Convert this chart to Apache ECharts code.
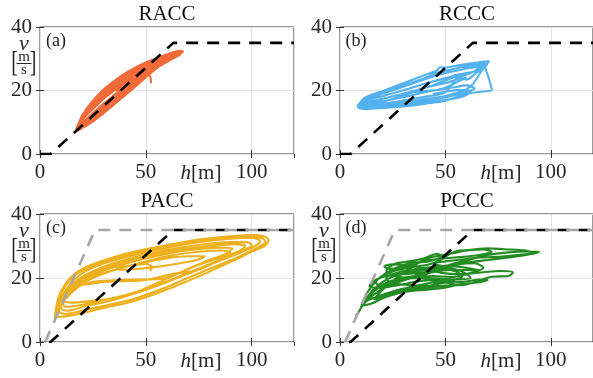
<!DOCTYPE html>
<html>
<head>
<meta charset="utf-8">
<script src="https://cdn.jsdelivr.net/npm/echarts@6/dist/echarts.min.js"></script>
<style>
html, body { margin: 0; padding: 0; background: #fff; }
#chart { width: 593px; height: 378px; }
</style>
</head>
<body>
<div id="chart"></div>
<script>
// panel titles / letters
const titles = ['RACC', 'RCCC', 'PACC', 'PCCC'];
const letters = ['(a)', '(b)', '(c)', '(d)'];
const xLimits = [0, 120];
const yLimits = [0, 40];

// reference speed policies [h, v]
const ovmBlack = [[0, 0], [5, 0], [63, 35], [120, 35]];
const ovmGray = [[2.4, 0], [26, 35], [120, 35]];

// trajectories [h (m), v (m/s)]
const racc = [
  [52.5, 22.3], [52.2, 24], [51.5, 25.8], [53, 27.4], [56, 28.9], [60, 30.3], [64, 31.6], [67, 32.3], [66, 31.2], [62, 29.8],
  [60, 29], [55, 27], [50, 24.2], [45, 21.2], [40, 18.4], [35, 15.6], [30, 12.8], [25, 10.3], [20, 8.2], [17.5, 7.3],
  [17, 7.5], [18.5, 10], [20, 12.3], [25, 16.8], [30, 20.3], [35, 23], [40, 25.3], [45, 27.2], [50, 28.8], [55, 30.2], [60, 31.4], [63, 32.1], [66, 32.5], [67.5, 32.3], [66, 31.5], [63, 30.6],
  [60, 29.5], [55, 27.6], [50, 25.1], [45, 22.4], [40, 19.8], [35, 17.1], [30, 14.3], [25, 11.6], [20, 9], [18, 7.6],
  [20, 11.5], [25, 15.5], [30, 18.8], [35, 21.5], [40, 23.9], [45, 26], [50, 27.9], [55, 29.6], [60, 30.9], [62.5, 31.4], [61, 30.4],
  [58, 29.3], [55, 28.3], [50, 26], [45, 23.6], [40, 21.2], [35, 18.6], [30, 15.8], [25, 12.9], [20, 9.8], [17.5, 7.5],
  [20, 11.9], [25, 16.2], [30, 19.6], [35, 22.3], [40, 24.6], [45, 26.6], [50, 28.4], [55, 29.9], [60, 31.2], [64, 31.9],
  [62, 30], [60, 29.2], [55, 27.3], [50, 24.7], [45, 21.8], [40, 19.1], [35, 16.3], [30, 13.6], [25, 11], [20, 8.6], [17.5, 7.4],
  [20, 11.1], [25, 14.9], [30, 18.1], [35, 20.8], [40, 23.2], [45, 25.4], [50, 27.4], [55, 29.2], [58, 30],
  [55, 28], [50, 25.6], [45, 23], [40, 20.5], [35, 17.8], [31, 15.5], [33, 17.2], [30, 15], [25, 12.3], [20, 9.4], [18, 7.8],
  [20, 10.7], [25, 14.2], [30, 17.3], [35, 20], [40, 22.5], [45, 24.8], [50, 27], [55, 28.9], [59, 30.1],
  [55, 28.6], [50, 26.5], [45, 24.2], [40, 21.9], [36, 19.8]
];

const rccc = [
  [9, 15.2], [10, 16.6], [12, 17.8], [16, 18.9], [20, 19.8], [30, 22.3], [40, 24.8], [46, 26.3], [47.5, 27.3], [50, 27.2], [55, 27.8], [60, 28.3], [65, 28.8], [70, 29.2], [70.8, 29.3],
  [69, 27.5], [70.5, 24], [72, 20.2],
  [68, 19.7], [60, 19], [50, 16.8], [40, 15.8], [30, 15], [20, 14.5], [12, 14.2], [9, 14.5], [8.5, 15.2],
  [10, 16.5], [12, 17.3], [20, 19], [30, 21.2], [40, 23.5], [50, 25.5], [60, 26.9], [66, 27.6], [70, 28.4],
  [64, 25.2], [60, 23.4], [56.5, 24.3],
  [50, 19.4], [40, 18], [30, 16.8], [20, 15.8], [12, 15.1], [9.5, 15],
  [12, 16.7], [20, 18.2], [30, 20.1], [40, 22.1], [50, 23.9], [56, 25], [60, 25.5], [64, 26], [68, 27.2], [70, 28.6],
  [67, 26], [63, 22], [60, 20.4],
  [50, 18.3], [40, 17.2], [30, 16.1], [20, 15.3], [12, 14.7], [9, 14.9],
  [12, 16.2], [20, 17.4], [30, 19], [40, 20.8], [50, 22.4], [55, 23.3], [60, 24.1], [56, 22.8],
  [50, 20.9], [40, 19.4], [30, 17.9], [20, 16.6], [12, 15.6], [10, 16],
  [14, 18], [20, 19.3], [30, 21.6], [40, 23.9], [46, 25.5], [52, 26.5], [58, 27.4], [64, 28], [69, 28.6],
  [63, 25.8], [58, 24.6], [54, 24.2], [50, 23.2], [44, 21.6], [40, 20.8], [30, 18.4], [20, 16.4], [14, 15.5],
  [20, 15.2], [30, 15.6], [40, 16.6], [48, 17.6], [55, 18.6], [60, 19.6], [64, 20.6], [60, 21.6], [54, 21], [48, 20.3],
  [40, 19.8], [32, 19.2], [24, 18], [16, 16.4], [11, 15.2], [14, 14.4], [22, 14.8], [32, 15.4], [42, 16.2], [52, 17.2],
  [58, 18], [62, 19.6], [57, 20.2], [50, 19.6], [44, 18.9]
];

const pacc = [
  [7, 7.2], [8, 12], [10, 16], [15, 20.5], [22, 23.5], [30, 25.5], [40, 27.5], [50, 29], [60, 30.3], [70, 31.5], [80, 32.4], [90, 33], [100, 33.4], [106, 33],
  [108, 31.8], [106, 30], [100, 28.3], [94, 26.2], [85, 23.5], [75, 20.5], [63, 17.2], [50, 14], [40, 12], [31, 10.8], [20, 9], [12, 8],
  [7.8, 7.8], [9, 13], [12, 17.5], [18, 21.6], [28, 24.5], [40, 26.9], [55, 29.2], [70, 30.9], [85, 32.2], [100, 32.9], [105, 32.4],
  [106.5, 31.3], [103, 29.6], [95, 27], [85, 24.2], [72, 20.6], [58, 16.7], [45, 13.6], [33, 11.7], [20, 9.8], [12, 8.8],
  [9, 9.5], [9, 11], [13, 17], [20, 21.5], [30, 24.5], [45, 27.3], [60, 29.5], [75, 31.2], [90, 32.3], [100, 32.6], [104, 31.5],
  [101, 29.8], [93, 27.5], [82, 24.6], [70, 21.3], [57, 18], [45, 15.2], [34, 13], [22, 11.3], [13, 9.8],
  [10, 10.5], [12, 15], [18, 19.5], [28, 23], [42, 26], [58, 28.5], [75, 30.3], [90, 31.2], [98, 31.2],
  [100, 30.2], [96, 28.6], [87, 26.2], [76, 23.2], [64, 20], [52, 17], [40, 14.6], [28, 12.8], [18, 11.4], [12, 11],
  [11, 12], [16, 17.5], [24, 21.2], [35, 24], [50, 26.8], [65, 28.7], [80, 30], [92, 30.6], [97, 30],
  [94, 28.4], [85, 26.3], [73, 23.6], [60, 19.8], [47, 16], [36, 13.8], [24, 12.8], [15, 12.3], [11, 13],
  [13, 14], [18, 18], [27, 21.5], [40, 24.4], [55, 26.9], [70, 28.7], [84, 29.5], [91, 29.2],
  [88, 27.6], [79, 25.4], [68, 22.3], [58, 19.8], [45, 19.5], [35, 19.3], [25, 18.8], [17, 17],
  [15, 15.5], [22, 19], [32, 21.8], [45, 24.3], [60, 26.8], [75, 28.2], [86, 28.6], [90, 27.8],
  [85, 25.8], [75, 22.6], [62, 21.2], [50, 19.4], [40, 19], [30, 18.8], [22, 18], [18, 18.4],
  [25, 20.4], [35, 22.5], [47, 24.5], [60, 26.2], [70, 26.8], [78, 26.8],
  [74, 25.6], [64, 24.4], [54, 23.4], [46, 22.8], [40, 22.6], [36, 22.9], [42, 23.8], [50, 24.4], [53, 23.4], [52, 22.2]
];

const pccc = [
  [7.5, 8.2], [9, 9.5], [12, 13], [16, 16.5], [22, 19.5], [30, 21.5], [40, 22.5], [48, 23], [55, 22], [58, 20.5], [52, 19.2], [44, 18.6],
  [35, 17.4], [26, 16], [18, 14.2], [13, 13], [16, 15.8], [22, 18.5], [30, 20], [38, 21], [46, 22.8], [54, 24.5], [62, 25.8],
  [70, 27.2], [80, 28], [88, 28.3], [94.5, 28.2], [90, 27.4], [80, 26.4], [70, 25.6], [60, 24.8], [50, 23.8], [42, 22.2], [34, 20.4],
  [26, 18.6], [20, 17.5], [17, 18.5], [20, 20.5], [26, 22.3], [34, 23.4], [42, 24.2], [48, 25.8], [52, 27.5], [56, 28.5], [62, 28.8],
  [68, 28.9], [72, 28.2], [66, 27.2], [58, 26.6], [50, 26.2], [42, 25.5], [36, 24.5], [30, 23.5], [24, 22.8], [21, 23.6], [25, 24.3],
  [32, 24], [40, 23], [48, 21.6], [58, 21.2], [68, 21.8], [76, 22.2], [82, 21.8], [80, 20.6], [72, 20.4], [66, 19.2], [60, 18],
  [52, 17.7], [44, 17.2], [36, 16.4], [28, 15.3], [20, 13.6], [15, 12], [11, 11.4], [14, 14.6], [20, 17.8], [28, 19.5], [36, 20.2],
  [44, 20.6], [52, 20.3], [60, 21.2], [68, 23.2], [64, 24.6], [56, 24.2], [48, 22.8], [40, 21.8], [32, 21.3], [24, 20.8], [18, 19.8],
  [14, 17.5], [18, 16.8], [26, 17.6], [34, 18.6], [42, 19.3], [50, 19], [58, 18.8], [66, 19.5], [70, 19.4], [64, 18.5], [56, 18],
  [48, 17.6], [40, 17.6], [32, 17.8], [24, 18.5], [22, 20], [28, 21.8], [36, 22.8], [44, 23.4], [52, 23.8], [60, 23.2], [66, 22.4],
  [60, 22.5], [52, 22.5], [44, 21.8], [38, 20.6],
  [30, 19.2], [22, 17.2], [16, 14.8], [12, 12.4], [10, 11], [13, 15.5], [17, 19], [22, 21.6], [28, 23.6], [35, 24.8], [42, 25.2],
  [48, 26.8], [46, 27.6], [40, 26.2], [33, 25.2], [26, 24.4], [22, 22.2], [26, 20.6], [34, 20], [44, 19.8], [54, 19.6], [62, 20],
  [58, 22], [50, 23.5], [44, 24.5], [50, 25.2], [58, 25.8], [66, 26.4], [74, 26.6], [84, 27.2], [92, 27.8], [88, 28.6], [78, 29],
  [70, 29.3], [60, 28.6], [54, 27.8], [47, 27], [40, 25.8], [32, 22.4], [26, 19.6], [20, 16.2], [16, 13.4], [19, 13.8], [26, 15.6],
  [34, 16.6], [42, 17.6], [50, 18.5], [55, 17.8], [48, 16.8], [40, 16.3], [32, 15.8], [26, 15.2]
];

const trajectories = [racc, rccc, pacc, pccc];
const colors = ['#f26a38', '#52b1ee', '#edb120', '#228b22'];
const hasGray = [false, false, true, true];
const hasVLabel = [true, false, true, true];

const FONT = '"Liberation Serif", "DejaVu Serif", serif';
const AX = '#333333';

const boxes = [
  { left: 40, top: 27, width: 254, height: 127 },
  { left: 340, top: 27, width: 254, height: 127 },
  { left: 40, top: 214, width: 254, height: 128 },
  { left: 340, top: 214, width: 254, height: 128 }
];

let grid = [], xAxis = [], yAxis = [], series = [], graphic = [];

function centered(extra) {
  return Object.assign({ fill: '#262626', align: 'center', verticalAlign: 'middle', textAlign: 'center', textVerticalAlign: 'middle' }, extra);
}

boxes.forEach(function (b, i) {
  grid.push({ left: b.left, top: b.top, width: b.width, height: b.height, show: true, borderColor: AX, borderWidth: 1 });
  xAxis.push({
    gridIndex: i, type: 'value', min: xLimits[0], max: xLimits[1], interval: 50,
    axisLine: { show: false },
    axisTick: { inside: true, length: 4, lineStyle: { color: AX } },
    axisLabel: { fontFamily: FONT, fontSize: 21, color: '#262626', margin: 8, showMaxLabel: false },
    splitLine: { show: true, lineStyle: { color: '#e3e3e3', width: 1 } }
  });
  yAxis.push({
    gridIndex: i, type: 'value', min: yLimits[0], max: yLimits[1], interval: 20,
    axisLine: { show: false },
    axisTick: { inside: true, length: 4, lineStyle: { color: AX } },
    axisLabel: { fontFamily: FONT, fontSize: 21, color: '#262626', margin: 8 },
    splitLine: { show: true, lineStyle: { color: '#e3e3e3', width: 1 } }
  });

  series.push({
    type: 'line', xAxisIndex: i, yAxisIndex: i, data: trajectories[i],
    showSymbol: false, smooth: 0.3, lineStyle: { color: colors[i], width: 2.1 }, z: 2
  });
  // black dashes shifted so they fall between the grey ones on the shared plateau
  series.push({
    type: 'line', xAxisIndex: i, yAxisIndex: i, data: ovmBlack,
    showSymbol: false, lineStyle: { color: '#000', width: 2.6, type: [12, 9], dashOffset: hasGray[i] ? 12 : 0 }, z: 3
  });
  if (hasGray[i]) {
    series.push({
      type: 'line', xAxisIndex: i, yAxisIndex: i, data: ovmGray,
      showSymbol: false, lineStyle: { color: '#a6a6a6', width: 2.6, type: [12, 9] }, z: 4
    });
  }

  // texts
  graphic.push({ type: 'text', x: b.left + 127, y: b.top - 12.5,
    style: centered({ text: titles[i], font: '21px ' + FONT, fill: '#111' }) });
  graphic.push({ type: 'text', x: b.left + 16, y: b.top + 14.5,
    style: centered({ text: letters[i], font: '18px ' + FONT, fill: '#222' }) });
  graphic.push({ type: 'text', x: b.left + 161, y: b.top + b.height + 19,
    style: centered({ text: '{i|h}[m]', font: '21px ' + FONT,
      rich: { i: { font: 'italic 21px ' + FONT, fill: '#262626' } } }) });
  if (hasVLabel[i]) {
    const fx = b.left - 16, fy = b.top + 36.5;
    graphic.push({ type: 'text', x: b.left - 16, y: b.top + 17, z: 10,
      style: centered({ text: 'v', font: 'italic 22px ' + FONT }) });
    graphic.push({ type: 'text', x: fx, y: fy - 6.5, style: centered({ text: 'm', font: '15px ' + FONT }) });
    graphic.push({ type: 'text', x: fx, y: fy + 7, style: centered({ text: 's', font: '15px ' + FONT }) });
    graphic.push({ type: 'line', shape: { x1: fx - 7.5, y1: fy, x2: fx + 7.5, y2: fy }, style: { stroke: '#262626', lineWidth: 1 } });
    graphic.push({ type: 'text', x: fx - 9.5, y: fy, scaleY: 1.45, style: centered({ text: '[', font: '20px ' + FONT }) });
    graphic.push({ type: 'text', x: fx + 9, y: fy, scaleY: 1.45, style: centered({ text: ']', font: '20px ' + FONT }) });
  }
});

// top / right axes only for the inward ticks
boxes.forEach(function (b, i) {
  xAxis.push({ gridIndex: i, type: 'value', position: 'top', min: xLimits[0], max: xLimits[1], interval: 50,
    axisLine: { show: false }, axisTick: { inside: true, length: 4, lineStyle: { color: AX } },
    axisLabel: { show: false }, splitLine: { show: false } });
  yAxis.push({ gridIndex: i, type: 'value', position: 'right', min: yLimits[0], max: yLimits[1], interval: 20,
    axisLine: { show: false }, axisTick: { inside: true, length: 4, lineStyle: { color: AX } },
    axisLabel: { show: false }, splitLine: { show: false } });
});

const mychart = echarts.init(document.getElementById('chart'));
mychart.setOption({
  animation: false,
  backgroundColor: '#fff',
  grid: grid,
  xAxis: xAxis,
  yAxis: yAxis,
  series: series,
  graphic: graphic
});
</script>
</body>
</html>
